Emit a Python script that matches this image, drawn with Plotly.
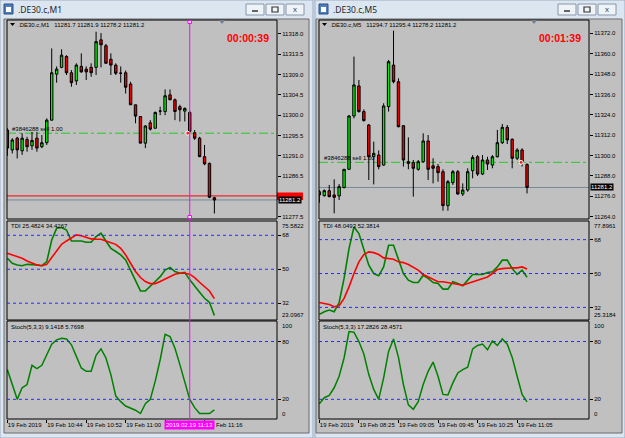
import plotly.graph_objects as go

W, H = 625, 438
FONT = "Liberation Sans"

# ---------------- data: M1 window ----------------
m1_open  = [11296.7, 11292.3, 11294.9, 11292.1, 11294.6, 11293.2, 11294.9, 11293.0, 11293.9, 11298.9,
            11309.1, 11310.6, 11313.0, 11309.4, 11307.6, 11310.8, 11310.2, 11310.6, 11310.6, 11316.7,
            11315.4, 11312.4, 11311.1, 11309.3, 11309.4, 11306.9, 11302.3, 11299.7, 11293.8, 11298.3,
            11297.1, 11300.9, 11300.8, 11304.5, 11303.4, 11301.9, 11300.9, 11300.6, 11296.1, 11294.9,
            11290.8, 11289.3, 11281.7]
m1_high  = [11297.1, 11294.9, 11295.2, 11296.0, 11295.2, 11296.3, 11296.3, 11295.6, 11299.3, 11314.8,
            11310.8, 11314.6, 11313.3, 11310.0, 11311.5, 11313.7, 11310.8, 11311.5, 11318.5, 11318.2,
            11315.8, 11313.7, 11311.5, 11310.8, 11309.9, 11307.4, 11302.3, 11299.8, 11297.8, 11298.9,
            11300.8, 11301.9, 11305.7, 11305.7, 11303.7, 11302.3, 11301.7, 11301.0, 11296.7, 11295.2,
            11293.4, 11289.5, 11281.9]
m1_low   = [11291.0, 11291.5, 11290.4, 11291.2, 11291.9, 11292.3, 11291.9, 11292.7, 11293.4, 11298.8,
            11307.2, 11310.4, 11308.9, 11306.3, 11306.7, 11309.4, 11307.8, 11308.5, 11308.9, 11310.6,
            11311.5, 11308.9, 11308.9, 11307.2, 11304.8, 11302.3, 11298.2, 11293.8, 11292.7, 11296.6,
            11297.1, 11300.0, 11300.0, 11303.4, 11298.9, 11298.6, 11298.6, 11296.0, 11294.5, 11290.7,
            11288.9, 11281.6, 11278.2]
m1_close = [11292.7, 11294.5, 11292.3, 11294.9, 11293.0, 11294.4, 11292.7, 11293.9, 11298.9, 11309.4,
            11310.2, 11313.3, 11309.4, 11307.2, 11311.1, 11309.6, 11309.6, 11309.4, 11316.3, 11315.6,
            11311.5, 11311.1, 11309.3, 11309.3, 11306.2, 11302.3, 11299.8, 11293.8, 11297.6, 11296.9,
            11300.6, 11300.9, 11304.3, 11303.4, 11300.8, 11301.2, 11301.5, 11296.4, 11294.9, 11290.8,
            11289.2, 11281.8, 11281.2]
m1_tdi_green = [55.8, 53.2, 52.3, 51.9, 52.6, 52.6, 52.3, 51.9, 54.1, 65.5,
                71.7, 72.1, 70.8, 65.0, 65.0, 65.0, 64.3, 64.3, 67.3, 69.1,
                65.0, 61.1, 59.4, 57.6, 54.9, 49.6, 44.4, 38.5, 38.5, 40.8,
                43.5, 46.1, 49.6, 50.9, 48.8, 47.9, 48.4, 44.4, 40.8, 37.8,
                34.6, 32.5, 25.5]
m1_tdi_red = [58.5, 57.6, 56.7, 55.8, 54.4, 53.2, 52.3, 51.9, 52.6, 56.2,
              59.7, 63.2, 65.0, 66.8, 68.2, 67.8, 66.8, 66.1, 65.9, 65.9,
              65.0, 64.1, 63.2, 61.1, 57.6, 53.2, 48.8, 45.6, 43.5, 42.4,
              42.4, 43.5, 44.9, 46.1, 47.4, 47.9, 47.9, 47.4, 45.6, 43.1,
              40.8, 38.5, 34.4]
m1_stoch = [50.9, 35.4, 20.0, 32.0, 35.4, 55.3, 51.9, 55.3, 67.0, 77.3,
            81.7, 83.4, 82.7, 76.6, 64.6, 52.6, 49.1, 49.1, 65.6, 72.4,
            62.9, 45.7, 23.4, 17.6, 13.1, 10.7, 8.7, 5.3, 15.5, 20.0,
            38.9, 61.1, 87.5, 85.1, 73.1, 56.0, 38.9, 20.0, 11.4, 5.3,
            5.3, 5.3, 9.1]
# the 11:08 label is hidden behind the cursor time box; only "Feb 11:16" peeks out after it
m1_time_ticks = [0, 8, 16, 24, 32, 40]
m1_time_labels = ["19 Feb 2019", "19 Feb 10:44", "19 Feb 10:52", "19 Feb 11:00", "", ""]
m1_partial_label = "Feb 11:16"
# 11282.0 sits behind the ask/bid price boxes, so it is not drawn
m1_price_ticks = [11277.5, 11286.5, 11291.0, 11295.5, 11300.0, 11304.5, 11309.0, 11313.5, 11318.0]
m1_bid, m1_ask, m1_trade = 11281.2, 11282.1, 11296.0
m1_cursor = 37
m1_cursor_label = "2019.02.19 11:13"

# ---------------- data: M5 window ----------------
m5_open  = [11278.7, 11276.4, 11279.3, 11276.8, 11276.2, 11281.1, 11291.9, 11323.3, 11341.0, 11325.9,
            11318.0, 11299.5, 11300.3, 11294.4, 11328.8, 11353.3, 11343.5, 11317.6, 11296.4, 11295.8,
            11291.9, 11296.4, 11308.6, 11294.0, 11293.5, 11290.5, 11270.5, 11284.0, 11290.5, 11277.4,
            11279.7, 11291.1, 11299.3, 11289.1, 11297.4, 11294.4, 11299.3, 11307.6, 11316.6, 11309.6,
            11298.4, 11303.3, 11294.7]
m5_high  = [11279.7, 11280.1, 11282.7, 11286.0, 11283.2, 11292.0, 11323.9, 11358.3, 11344.5, 11327.2,
            11318.6, 11308.2, 11303.0, 11330.8, 11356.3, 11373.6, 11345.5, 11318.0, 11310.7, 11297.4,
            11297.4, 11313.1, 11312.1, 11298.4, 11295.0, 11291.9, 11285.6, 11291.5, 11291.5, 11283.6,
            11292.5, 11300.3, 11300.3, 11300.3, 11299.3, 11300.3, 11315.1, 11318.6, 11318.0, 11310.1,
            11304.3, 11304.3, 11295.4]
m5_low   = [11272.2, 11275.8, 11275.4, 11266.0, 11273.8, 11280.7, 11291.5, 11321.9, 11325.3, 11320.0,
            11285.6, 11283.0, 11291.9, 11294.0, 11325.9, 11342.5, 11316.6, 11293.5, 11291.9, 11275.8,
            11291.1, 11295.8, 11285.6, 11283.6, 11284.6, 11267.5, 11267.5, 11282.7, 11276.8, 11276.2,
            11278.7, 11286.6, 11288.0, 11288.5, 11291.5, 11292.5, 11298.9, 11306.8, 11306.8, 11292.5,
            11297.4, 11293.5, 11277.7]
m5_close = [11276.8, 11279.3, 11275.8, 11275.4, 11281.7, 11291.9, 11323.3, 11341.6, 11325.9, 11320.6,
            11299.3, 11301.3, 11293.5, 11329.2, 11355.3, 11343.5, 11317.0, 11297.4, 11295.4, 11292.5,
            11296.4, 11308.6, 11291.9, 11292.5, 11289.9, 11270.5, 11284.6, 11290.5, 11277.4, 11279.7,
            11290.5, 11298.9, 11289.1, 11297.4, 11295.0, 11299.3, 11307.6, 11316.6, 11309.2, 11298.4,
            11303.3, 11296.4, 11281.2]
m5_tdi_green = [28.3, 29.7, 30.6, 29.7, 34.6, 47.4, 63.2, 74.7, 71.2, 62.4,
                54.4, 50.0, 48.8, 53.5, 65.0, 65.0, 57.1, 50.0, 46.5, 45.2,
                45.2, 49.1, 47.4, 45.2, 44.7, 41.7, 41.7, 45.6, 44.7, 43.5,
                46.5, 49.5, 49.5, 49.5, 50.5, 50.9, 53.5, 57.1, 57.1, 52.6,
                49.5, 51.8, 48.0]
m5_tdi_red = [34.6, 34.1, 33.6, 32.4, 32.9, 36.8, 42.9, 50.0, 56.2, 60.1,
              61.5, 61.1, 60.1, 58.3, 57.9, 57.6, 56.2, 55.8, 54.8, 53.5,
              51.8, 49.5, 48.2, 47.0, 45.6, 45.6, 45.2, 44.7, 44.2, 43.8,
              44.7, 45.6, 46.5, 47.4, 48.2, 50.0, 52.1, 52.6, 53.0, 53.0,
              53.0, 53.5, 52.4]
m5_stoch = [15.5, 21.7, 24.1, 32.0, 44.0, 62.9, 90.3, 89.6, 80.0, 67.0,
            45.7, 30.3, 20.0, 42.3, 69.7, 82.7, 63.5, 35.4, 14.2, 9.7,
            17.6, 35.4, 49.1, 58.7, 44.0, 25.1, 24.5, 37.1, 47.4, 50.9,
            53.3, 72.4, 75.9, 77.3, 71.4, 80.7, 75.9, 82.7, 77.3, 63.5,
            44.0, 25.1, 17.3]
m5_time_ticks = [0, 8, 16, 24, 32, 40]
m5_time_labels = ["19 Feb 2019", "19 Feb 08:25", "19 Feb 09:05", "19 Feb 09:45", "19 Feb 10:25", "19 Feb 11:05"]
m5_price_ticks = [11264.0, 11276.0, 11288.0, 11300.0, 11312.0, 11324.0, 11336.0, 11348.0, 11360.0, 11372.0]
m5_bid, m5_trade = 11281.2, 11296.0

# ---------------- helpers ----------------
def fx(p):
    return p / W

def fy(p):
    return 1 - p / H

fig = go.Figure()
shapes = []
ann = []

def rect(x0, y0, x1, y1, fill=None, line=None, lw=1, layer="below"):
    shapes.append(dict(type="rect", xref="paper", yref="paper",
                       x0=fx(x0), x1=fx(x1), y0=fy(y1), y1=fy(y0),
                       fillcolor=fill if fill else "rgba(0,0,0,0)",
                       line=dict(color=line if line else "rgba(0,0,0,0)", width=lw if line else 0),
                       layer=layer))

def text(x, y, s, size=6, color="black", xa="left", ya="middle", bg=None, bold=False, family=FONT, xref="paper", yref="paper"):
    ann.append(dict(x=x if xref != "paper" else fx(x), y=y if yref != "paper" else fy(y),
                    xref=xref, yref=yref, text=("<b>%s</b>" % s) if bold else s,
                    showarrow=False, xanchor=xa, yanchor=ya,
                    font=dict(family=family, size=size, color=color),
                    bgcolor=bg, borderpad=0))

CHROME = "#dce6f1"
SILVER = "#c0c0c0"
LEVEL = "#2a2aff"

windows = [
    dict(wx0=0, wx1=313, cx0=4, cx1=309, px0=7, px1=277, title=".DE30.c,M1",
         xrange=[-0.07, 54.7],
         o=m1_open, h=m1_high, l=m1_low, c=m1_close,
         g=m1_tdi_green, r=m1_tdi_red, st=m1_stoch,
         ticks=m1_time_ticks, tlabels=m1_time_labels, pticks=m1_price_ticks,
         prange=[11276.98, 11321.10], trange=[23.0967, 75.5822],
         header=".DE30.c,M1   11281.7 11281.9 11278.2 11281.2", timer="00:00:39",
         tdi="TDI 25.4824 34.4267", stl="Stoch(5,3,3) 9.1418 5.7698",
         tmax="75.5822", tmin="23.0967", bid=m1_bid, trade=m1_trade, lab_y=129, entry=36.6),
    dict(wx0=315, wx1=625, cx0=316, cx1=622, px0=319, px1=589, title=".DE30.c,M5",
         xrange=[-0.07, 54.53],
         o=m5_open, h=m5_high, l=m5_low, c=m5_close,
         g=m5_tdi_green, r=m5_tdi_red, st=m5_stoch,
         ticks=m5_time_ticks, tlabels=m5_time_labels, pticks=m5_price_ticks,
         prange=[11262.63, 11379.85], trange=[25.3184, 77.8961],
         header=".DE30.c,M5   11294.7 11295.4 11278.2 11281.2", timer="00:01:39",
         tdi="TDI 48.0493 52.3814", stl="Stoch(5,3,3) 17.2826 28.4571",
         tmax="77.8961", tmin="25.3184", bid=m5_bid, trade=m5_trade, lab_y=158, entry=40.8),
]

MAIN = (20, 219)
TDI = (221, 320)
STO = (321, 419)

layout_axes = {}
for wi, w in enumerate(windows):
    base = wi * 3
    ax = [base + 1, base + 2, base + 3]
    names = ["" if a == 1 else str(a) for a in ax]
    # window chrome
    rect(w["wx0"], 0, w["wx1"], H, fill=CHROME, line="#9aabc0")
    rect(w["cx0"], 19, w["cx1"], 433, fill=SILVER, line="#6d6d6d")
    # title bar
    rect(w["wx0"] + 4, 4, w["wx0"] + 13, 14, fill="#4f7fbf", line="#2d4f80")
    rect(w["wx0"] + 6, 7, w["wx0"] + 11, 12, fill="#ffffff", line=None)
    text(w["wx0"] + 17, 10, w["title"], size=8.5, color="#1e1e1e", family="Noto Sans")
    bx = w["wx1"] - 67
    for k in range(3):
        rect(bx + k * 20, 4, bx + k * 20 + 18, 15, fill="#eef3f8", line="#8796aa")
    shapes.append(dict(type="line", xref="paper", yref="paper", x0=fx(bx + 6), x1=fx(bx + 12),
                       y0=fy(11), y1=fy(11), line=dict(color="#333", width=1.5)))
    rect(bx + 26, 7, bx + 32, 12, line="#333", lw=1.2)
    text(bx + 49, 9.5, "x", size=8, color="#444", xa="center")

    domx = [fx(w["px0"]), fx(w["px1"])]
    for k, (pane, yr) in enumerate([(MAIN, w["prange"]), (TDI, w["trange"]), (STO, [-0.4, 101.3])]):
        xn = "xaxis" + names[k]
        yn = "yaxis" + names[k]
        layout_axes[xn] = dict(domain=domx, range=w["xrange"], anchor="y" + names[k],
                               showgrid=False, zeroline=False, showline=False,
                               showticklabels=False, ticks="", fixedrange=True,
                               rangeslider=dict(visible=False))
        layout_axes[yn] = dict(domain=[fy(pane[1]), fy(pane[0])], range=yr, anchor="x" + names[k],
                               side="right", showgrid=False, zeroline=False, showline=False,
                               ticks="outside", ticklen=3, tickcolor="black", tickwidth=1,
                               tickfont=dict(family=FONT, size=6, color="black"), fixedrange=True)
        rect(w["px0"], pane[0], w["px1"], pane[1], line="black", lw=1, layer="above")
    # time axis on the stochastic pane
    xs = "xaxis" + names[2]
    layout_axes[xs].update(showticklabels=True, ticks="outside", ticklen=3, tickcolor="black",
                           tickvals=w["ticks"], ticktext=w["tlabels"], ticklabelposition="outside right",
                           tickangle=0, tickfont=dict(family=FONT, size=6, color="black"))
    layout_axes["yaxis" + names[0]].update(tickvals=w["pticks"], tickformat=".1f")
    layout_axes["yaxis" + names[1]].update(tickvals=[32, 50, 68])
    layout_axes["yaxis" + names[2]].update(tickvals=[20, 80])

    xr = ["x" + names[k] for k in range(3)]
    yr_ = ["y" + names[k] for k in range(3)]
    idx = list(range(len(w["o"])))

    # level lines
    for lv in [32, 50, 68]:
        shapes.append(dict(type="line", xref=xr[1] + " domain", yref=yr_[1], x0=0, x1=1, y0=lv, y1=lv,
                           line=dict(color=LEVEL, width=1, dash="dot")))
    for lv in [20, 80]:
        shapes.append(dict(type="line", xref=xr[2] + " domain", yref=yr_[2], x0=0, x1=1, y0=lv, y1=lv,
                           line=dict(color=LEVEL, width=1, dash="dot")))
    # trade line and bid line
    shapes.append(dict(type="line", xref=xr[0] + " domain", yref=yr_[0], x0=0, x1=1, y0=w["trade"], y1=w["trade"],
                       line=dict(color="#22cc22", width=1, dash="dashdot"), layer="below"))
    shapes.append(dict(type="line", xref=xr[0] + " domain", yref=yr_[0], x0=0, x1=1, y0=w["bid"], y1=w["bid"],
                       line=dict(color="#778899", width=1), layer="below"))

    fig.add_trace(go.Candlestick(x=idx, open=w["o"], high=w["h"], low=w["l"], close=w["c"],
                                 xaxis=xr[0], yaxis=yr_[0], whiskerwidth=0,
                                 increasing=dict(line=dict(color="#000000", width=1), fillcolor="#00ee00"),
                                 decreasing=dict(line=dict(color="#000000", width=1), fillcolor="#ee0000"),
                                 showlegend=False, hoverinfo="skip"))
    fig.add_trace(go.Scatter(x=idx, y=w["g"], xaxis=xr[1], yaxis=yr_[1], mode="lines",
                             line=dict(color="#008000", width=1.6), showlegend=False, hoverinfo="skip"))
    fig.add_trace(go.Scatter(x=idx, y=w["r"], xaxis=xr[1], yaxis=yr_[1], mode="lines",
                             line=dict(color="#ff0000", width=1.6), showlegend=False, hoverinfo="skip"))
    fig.add_trace(go.Scatter(x=idx, y=w["st"], xaxis=xr[2], yaxis=yr_[2], mode="lines",
                             line=dict(color="#008000", width=1.5), showlegend=False, hoverinfo="skip"))

    # texts in panes
    sx = w["px0"]
    shapes.append(dict(type="path", xref="paper", yref="paper",
                       path="M %f %f L %f %f L %f %f Z" % (fx(sx + 3), fy(23), fx(sx + 8), fy(23), fx(sx + 5.5), fy(26)),
                       fillcolor="black", line=dict(width=0)))
    text(sx + 10, 25, w["header"], size=6)
    text(w["px1"] - 7, 38, w["timer"], size=10.5, color="#ff0000", xa="right", bold=True)
    text(sx + 3, 226, w["tdi"], size=6)
    text(sx + 3, 327, w["stl"], size=6)
    text(sx + 4, w["lab_y"], "#3846288 sell 1.00", size=6)
    # min / max labels of indicator scales
    text(w["px1"] + 4, 222, w["tmax"], size=6, ya="top")
    text(w["px1"] + 4, 319, w["tmin"], size=6, ya="bottom")
    text(w["px1"] + 4, 322, "100", size=6, ya="top")
    text(w["px1"] + 4, 418, "0", size=6, ya="bottom")
    # shift marker triangle
    tx = w["px1"] - 55
    shapes.append(dict(type="path", xref="paper", yref="paper",
                       path="M %f %f L %f %f L %f %f Z" % (fx(tx - 3), fy(20), fx(tx + 3), fy(20), fx(tx), fy(24)),
                       fillcolor="#6f7f8f", line=dict(width=0)))
    # trade entry marker
    fig.add_trace(go.Scatter(x=[w["entry"]], y=[w["trade"]], xaxis=xr[0], yaxis=yr_[0],
                             mode="markers", marker=dict(symbol="circle", size=4, color="#ff2020",
                                                         line=dict(color="white", width=1)),
                             showlegend=False, hoverinfo="skip"))

# M1 window extras: ask line, cursor line, price boxes
shapes.append(dict(type="line", xref="x domain", yref="y", x0=0, x1=1, y0=m1_ask, y1=m1_ask,
                   line=dict(color="#ff0000", width=1), layer="below"))
shapes.append(dict(type="line", xref="x", yref="paper", x0=m1_cursor, x1=m1_cursor, y0=fy(STO[1]), y1=fy(MAIN[0]),
                   line=dict(color="#ff00ff", width=1), layer="above"))
for yy in (MAIN[0] + 2, MAIN[1] - 2):
    shapes.append(dict(type="rect", xref="x", yref="paper", x0=m1_cursor - 0.35, x1=m1_cursor + 0.35,
                       y0=fy(yy + 1.5), y1=fy(yy - 1.5), line=dict(color="#ff00ff", width=1),
                       fillcolor="#ffffff", layer="above"))
# ask price box (mostly hidden behind the bid box), drawn beneath the annotations
shapes.append(dict(type="rect", xref="paper", yref="paper", x0=fx(277), x1=fx(303), y0=fy(200), y1=fy(192.5),
                   fillcolor="#ff0000", line=dict(width=0), layer="below"))
text(278, m1_bid, "11281.2", size=6, color="white", bg="#000000", yref="y")
text(590, m5_bid, "11281.2", size=6, color="white", bg="#000000", yref="y4")
ann.append(dict(x=m1_cursor, xref="x3", y=fy(425), yref="paper", text=m1_cursor_label,
                showarrow=False, xanchor="center", yanchor="middle",
                font=dict(family=FONT, size=6, color="white"), bgcolor="#ff00ff", borderpad=1))
ann.append(dict(x=fx(214), xref="paper", y=fy(425), yref="paper", text=m1_partial_label,
                showarrow=False, xanchor="left", yanchor="middle",
                font=dict(family=FONT, size=6, color="black")))

fig.update_layout(width=W, height=H, margin=dict(l=0, r=0, t=0, b=0),
                  paper_bgcolor=CHROME, plot_bgcolor=SILVER,
                  shapes=shapes, annotations=ann, showlegend=False, **layout_axes)

fig.write_html("out.html")
